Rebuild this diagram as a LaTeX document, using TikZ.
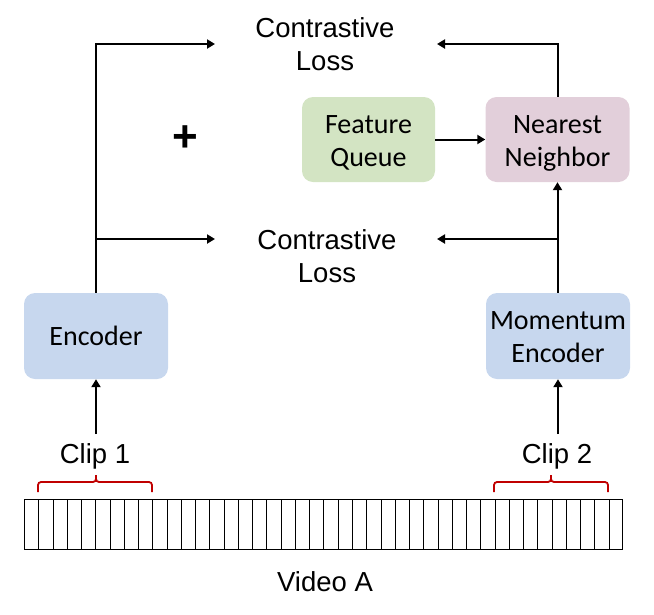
\documentclass[tikz,border=0pt]{standalone}
\usepackage{fontspec}
\setmainfont{Liberation Sans}
\newfontfamily\boxfont{Carlito}
\usetikzlibrary{arrows.meta}
\definecolor{encblue}{HTML}{C7D7EE}
\definecolor{fqgreen}{HTML}{D3E4C3}
\definecolor{nnpink}{HTML}{E2CFDA}
\definecolor{bracered}{HTML}{C00000}
\tikzset{
  blk/.style={rounded corners=11pt, inner sep=0pt},
  bt/.style={inner sep=0pt, align=center,
    font=\boxfont\fontsize{28}{33}\selectfont},
  lbl/.style={inner sep=0pt, align=center, font=\fontsize{27.5}{33}\selectfont},
  arr/.style={line width=2pt, -{Triangle[length=8pt,width=9pt]}},
  brc/.style={draw=bracered, line width=1.8pt, rounded corners=3pt},
  strip/.style={draw=black, line width=1.3pt}
}
\begin{document}
\begin{tikzpicture}[x=1pt,y=-1pt]
\useasboundingbox (0,0) rectangle (654,614);
% boxes
\node[blk, fill=encblue, minimum width=144pt, minimum height=86pt,
  label={[bt]center:Encoder}] (enc) at (96,336) {};
\node[blk, fill=encblue, minimum width=144pt, minimum height=86pt,
  label={[bt, yshift=-1.5pt]center:{Momentum\\Encoder}}] (mom) at (558,336) {};
\node[blk, fill=fqgreen, minimum width=133pt, minimum height=85pt,
  label={[bt, yshift=-3.5pt]center:{Feature\\Queue}}] (fq) at (368.5,139.5) {};
\node[blk, fill=nnpink, minimum width=144pt, minimum height=85pt,
  label={[bt, yshift=-3.5pt]center:{Nearest\\Neighbor}}] (nn) at (557.5,139.5) {};
% labels
\node[lbl] (cl1) at (325,44.5) {Contrastive\\Loss};
\node[lbl] (cl2) at (327,256.5) {Contrastive\\Loss};
\node[inner sep=0pt, font=\fontsize{44}{44}\selectfont\bfseries] (plus) at (185,139) {+};
\node[lbl] (clip1) at (95,456) {Clip 1};
\node[lbl] (clip2) at (557,456) {Clip 2};
\node[lbl] (vid) at (325,582) {Video A};
% coordinates
\coordinate (tl) at (215,44);
\coordinate (tr) at (437,44);
\coordinate (jl) at (96,239);
\coordinate (bl) at (215,239);
\coordinate (jr) at (558,239);
\coordinate (br) at (437,239);
\coordinate (c1) at (96,434);
\coordinate (c2) at (558,434);
% connectors
\draw[arr] (enc.north) |- (tl);
\draw[arr] (jl) -- (bl);
\draw[arr] (mom.north -| nn.south) -- (nn.south);
\draw[arr] (jr) -- (br);
\draw[arr] (nn.north) |- (tr);
\draw[arr] (fq.east) -- (nn.west);
\draw[arr] (c1) -- (enc.south);
\draw[arr] (c2) -- (mom.south);
% braces
\draw[brc] (38,492) -- (38,482) -- (96,482) -- (96,475);
\draw[brc] (96,475) -- (96,482) -- (152,482) -- (152,492);
\draw[brc] (494,492) -- (494,482) -- (551,482) -- (551,475);
\draw[brc] (551,475) -- (551,482) -- (608,482) -- (608,492);
% film strip
\draw[strip] (24.5,499.5) rectangle (622.5,549.5);
\foreach \i in {1,...,41}{
  \pgfmathsetmacro{\xx}{int(24+\i*14.2619+0.5)+0.5}
  \draw[strip] (\xx,499.5) -- (\xx,549.5);
}
\end{tikzpicture}
\end{document}
